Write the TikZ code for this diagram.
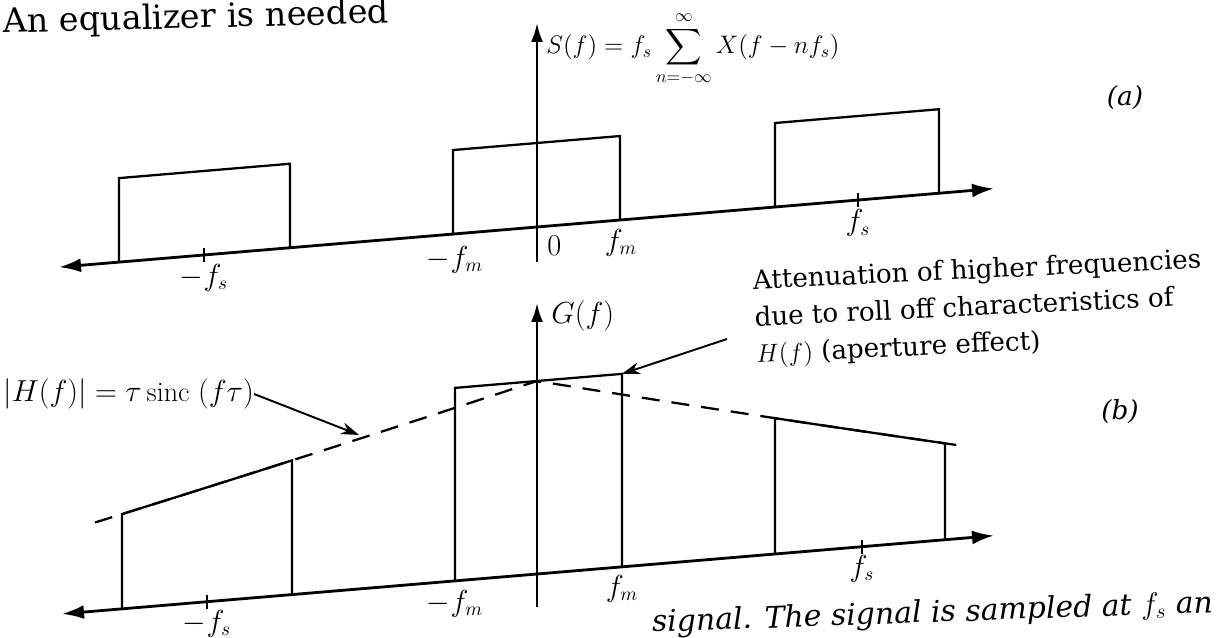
\documentclass[tikz,border=0pt]{standalone}
\usepackage{fontspec}
\usepackage{amsmath}
\usetikzlibrary{arrows.meta}
\newfontfamily\bodyfont{DejaVu Serif}

\begin{document}
\begin{tikzpicture}[
  x=0.2mm, y=0.2mm,
  declare function={gain(\t)=193-0.245*abs(\t)+0.2*(\t/100)^2;},
  axis/.style={line width=1.6pt, {Latex[length=4.4mm,width=2.8mm]}-{Latex[length=4.4mm,width=2.8mm]}},
  yaxis/.style={line width=1.4pt, -{Latex[length=3.8mm,width=2.4mm]}},
  band/.style={line width=1.3pt, line join=miter},
  envl/.style={line width=1.3pt, dash pattern=on 3.6mm off 2.4mm},
  ptr/.style={line width=1.1pt, -{Stealth[length=3.6mm,width=2.4mm]}},
  tk/.style={line width=1.3pt},
  lbl/.style={font=\fontsize{16}{19}\selectfont, inner sep=0pt},
  note/.style={font=\bodyfont\fontsize{14.9}{21}\selectfont, align=left, inner sep=0pt, rotate=2.7},
  page/.style={font=\bodyfont\fontsize{19}{23}\selectfont, inner sep=0pt},
]
\path[use as bounding box, fill=white] (0,0) rectangle (1218,637);

\node[page, anchor=base west, rotate=1.5] (eqtxt) at (3,604) {An equalizer is needed};

% sampled spectrum
\begin{scope}[shift={(537,410)}, yslant=0.084]
  \draw[axis] (-478,0) -- (457,0);
  \draw[yaxis] (0,-35) -- (0,204);
  \draw[band] (-418,0) -- (-418,84) -- (-247,84) -- (-247,0);
  \draw[band] (-84,0) -- (-84,84) -- (83,84) -- (83,0);
  \draw[band] (238,0) -- (238,84) -- (402,84) -- (402,0);
  \draw[tk] (-333,-7) -- (-333,7);
  \draw[tk] (321,-7) -- (321,7);
  \node[lbl, anchor=north] (amfs) at (-333,-9) {$-f_s$};
  \node[lbl, anchor=north] (amfm) at (-82,-12) {$-f_m$};
  \node[lbl, anchor=north west] (azero) at (10,-9) {$0$};
  \node[lbl, anchor=north] (afm) at (84,-9) {$f_m$};
  \node[lbl, anchor=north] (afs) at (321,-9) {$f_s$};
\end{scope}
\node[lbl, anchor=west, font=\fontsize{14.5}{17}\selectfont] (sform) at (546,588)
  {$\displaystyle S(f) = f_s \sum_{n=-\infty}^{\infty} X(f - nf_s)$};
\node[page, font=\bodyfont\itshape\fontsize{15}{18}\selectfont] (taga) at (1125,539) {(a)};

% flat-top sampled spectrum
\begin{scope}[shift={(537,63)}, yslant=0.084]
  \draw[envl] plot[domain=-442:428, samples=90] (\x,{gain(\x)});
  \draw[axis] (-475,0) -- (457,0);
  \draw[yaxis] (0,-33) -- (0,271);
  \draw[band] (-415,0) -- plot[domain=-415:-245, samples=20] (\x,{gain(\x)}) -- (-245,0);
  \draw[band] (-82,0) -- (-82,193) -- (85,193) -- (85,0);
  \draw[band] (238,0) -- plot[domain=238:408, samples=20] (\x,{gain(\x)}) -- (408,0);
  \draw[tk] (-330,-7) -- (-330,7);
  \draw[tk] (325,-7) -- (325,7);
  \coordinate (hpt) at (-178,154);
  \coordinate (mtop) at (85,193);
  \node[lbl, anchor=north] (bmfs) at (-330,-8) {$-f_s$};
  \node[lbl, anchor=north] (bmfm) at (-82,-9) {$-f_m$};
  \node[lbl, anchor=north] (bfm) at (85,-8) {$f_m$};
  \node[lbl, anchor=north] (bfs) at (325,-8) {$f_s$};
  \node[lbl, anchor=north west] (gf) at (14,272) {$G(f)$};
\end{scope}
\node[page, font=\bodyfont\itshape\fontsize{15}{18}\selectfont] (tagb) at (1120,225) {(b)};

\node[lbl, anchor=west] (hlab) at (3,243) {$|H(f)| = \tau\,\mathrm{sinc}\;(f\tau)$};
\node[note, anchor=north west] (atten) at (752,368)
  {Attenuation of higher frequencies\\ due to roll off characteristics of\\ $H(f)$ (aperture effect)};
\coordinate (atail) at (727,298);
\draw[ptr] (hlab.east) -- (hpt);
\draw[ptr] (atail) -- (mtop);

\node[page, anchor=base west, rotate=2, font=\bodyfont\itshape\fontsize{17}{20}\selectfont] (samptxt) at (652,5)
  {signal. The signal is sampled at $f_s$ an};
\end{tikzpicture}
\end{document}
